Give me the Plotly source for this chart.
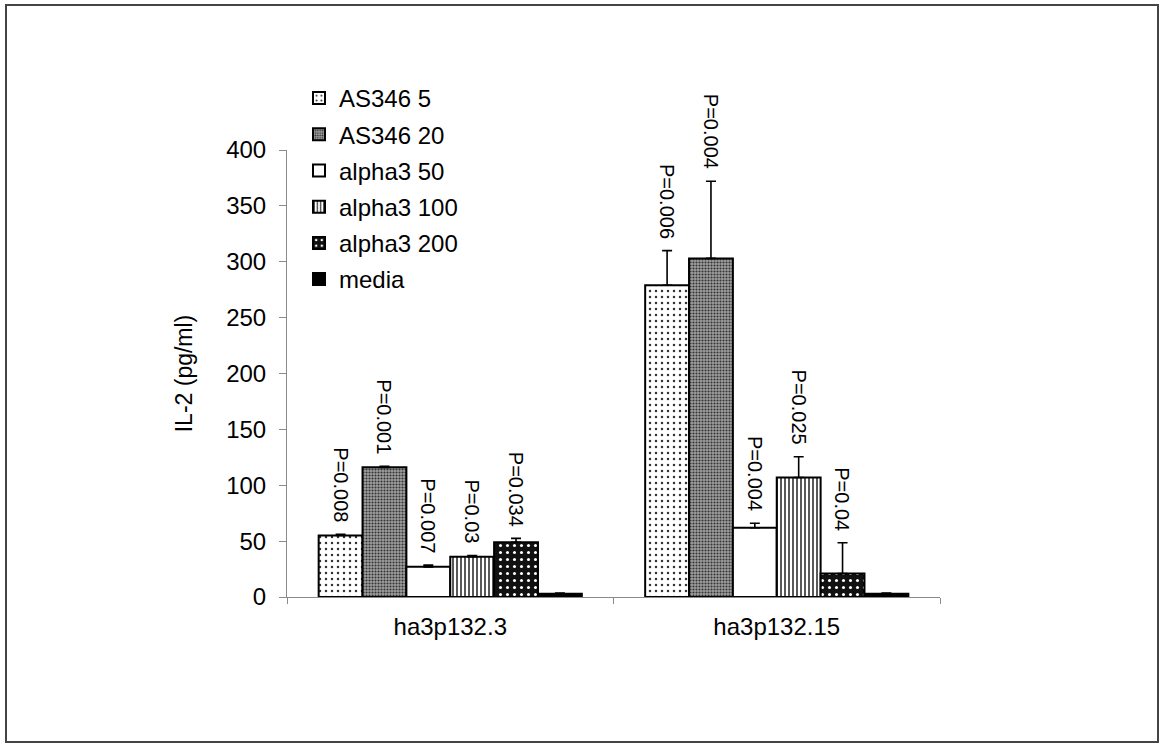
import plotly.graph_objects as go

# Cell lines on the x axis
cells = ["ha3p132.3", "ha3p132.15"]

# Stimulus series (legend order)
series = ["AS346 5", "AS346 20", "alpha3 50", "alpha3 100", "alpha3 200", "media"]

# Mean IL-2 (pg/ml) per cell line
as346_5 = [55, 279]
as346_20 = [116, 303]
alpha3_50 = [27, 62]
alpha3_100 = [36, 107]
alpha3_200 = [49, 21]
media = [3, 3]

# Upper error (pg/ml)
err_as346_5 = [1, 31]
err_as346_20 = [1, 69]
err_alpha3_50 = [1.5, 4]
err_alpha3_100 = [1, 18.5]
err_alpha3_200 = [3.5, 27.5]
err_media = [0.5, 0.5]

# P values printed above each bar (none for media)
p_as346_5 = ["P=0.008", "P=0.006"]
p_as346_20 = ["P=0.001", "P=0.004"]
p_alpha3_50 = ["P=0.007", "P=0.004"]
p_alpha3_100 = ["P=0.03", "P=0.025"]
p_alpha3_200 = ["P=0.034", "P=0.04"]
p_media = ["", ""]

values = [as346_5, as346_20, alpha3_50, alpha3_100, alpha3_200, media]
errors = [err_as346_5, err_as346_20, err_alpha3_50, err_alpha3_100, err_alpha3_200, err_media]
pvals = [p_as346_5, p_as346_20, p_alpha3_50, p_alpha3_100, p_alpha3_200, p_media]

# Fill patterns imitating the monochrome hatch styles
patterns = [
    dict(shape=".", fgcolor="#333333", bgcolor="white", size=6, solidity=0.14, fillmode="replace"),
    dict(shape=".", fgcolor="#333333", bgcolor="#a0a0a0", size=3, solidity=0.4, fillmode="replace"),
    dict(shape="", fgcolor="white", bgcolor="white", fillmode="replace"),
    dict(shape="|", fgcolor="#111111", bgcolor="white", size=4, solidity=0.35, fillmode="replace"),
    dict(shape=".", fgcolor="white", bgcolor="#111111", size=7, solidity=0.15, fillmode="replace"),
    dict(shape="", fgcolor="black", bgcolor="black", fillmode="replace"),
]
base_colors = ["white", "#a0a0a0", "white", "white", "#111111", "black"]

FONT = "Liberation Sans, Arial, sans-serif"
W, H = 1160, 744
ML, MR, MT, MB = 287, 220, 150, 147
BARGAP = 0.194

fig = go.Figure()
for i, name in enumerate(series):
    fig.add_trace(go.Bar(
        name=name,
        x=cells,
        y=values[i],
        legendgroup=name,
        marker=dict(color=base_colors[i], pattern=patterns[i],
                    line=dict(color="black", width=2)),
        error_y=dict(type="data", symmetric=False, array=errors[i],
                     arrayminus=[0] * len(cells), color="black",
                     thickness=1.6, width=5),
    ))

# P-value labels, rotated, sitting on top of each error bar
n = len(series)
bw = (1 - BARGAP) / n
annotations = []
for i in range(n):
    for j in range(len(cells)):
        if not pvals[i][j]:
            continue
        xc = j - (1 - BARGAP) / 2 + (i + 0.5) * bw
        annotations.append(dict(
            x=xc, y=values[i][j] + errors[i][j], xref="x", yref="y",
            text=pvals[i][j], textangle=90, showarrow=False,
            xanchor="center", yanchor="bottom", yshift=10,
            font=dict(family=FONT, size=20, color="black"),
        ))

pw, ph = W - ML - MR, H - MT - MB


def px_x(p):
    return (p - ML) / pw


def px_y(p):
    return (H - MB - p) / ph


fig.update_layout(
    width=W, height=H,
    margin=dict(l=ML, r=MR, t=MT, b=MB),
    paper_bgcolor="white", plot_bgcolor="white",
    barmode="group", bargap=BARGAP, bargroupgap=0,
    font=dict(family=FONT, size=24, color="black"),
    annotations=annotations,
    showlegend=True,
    legend=dict(x=px_x(299), y=px_y(76), xanchor="left", yanchor="top",
                bgcolor="rgba(0,0,0,0)", font=dict(family=FONT, size=24),
                tracegroupgap=2, itemwidth=30),
    shapes=[dict(type="rect", xref="paper", yref="paper",
                 x0=px_x(6), x1=px_x(1158), y0=px_y(742), y1=px_y(5),
                 line=dict(color="#444444", width=2), fillcolor="rgba(0,0,0,0)",
                 layer="below")],
)

fig.update_xaxes(
    type="category", showline=True, linecolor="#8a8a8a", linewidth=1,
    ticks="outside", tickson="boundaries", ticklen=6, tickcolor="#8a8a8a",
    showgrid=False, tickfont=dict(family=FONT, size=24), ticklabelstandoff=8,
)
fig.update_yaxes(
    range=[0, 400], dtick=50, showline=True, linecolor="#8a8a8a", linewidth=1,
    ticks="outside", ticklen=7, tickcolor="#8a8a8a", showgrid=False,
    zeroline=False, tickfont=dict(family=FONT, size=24), ticklabelstandoff=8,
    title=dict(text="IL-2 (pg/ml)", font=dict(family=FONT, size=23), standoff=27),
)

fig.write_html("out.html")
